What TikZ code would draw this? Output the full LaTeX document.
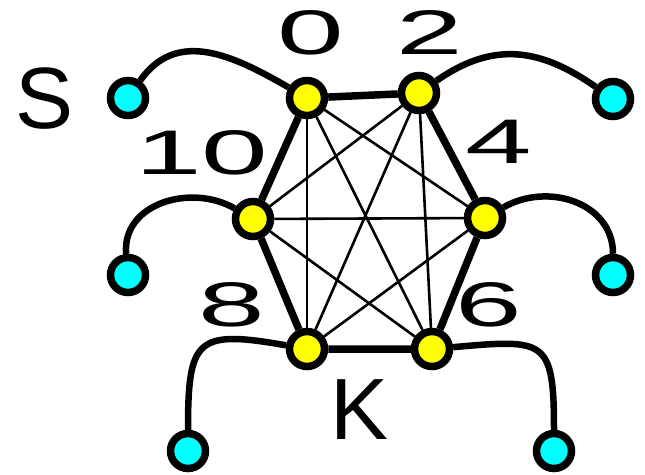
\documentclass[tikz,border=0pt]{standalone}
\usepackage{fontspec}
\setmainfont{Liberation Sans}
\usepackage{graphicx}
\definecolor{aqua}{RGB}{0,255,255}
\definecolor{yel}{RGB}{255,255,0}
\begin{document}
\begin{tikzpicture}[x=1pt,y=-1pt,
  vtx/.style={circle,draw=black,line width=7.5pt,inner sep=0pt,minimum size=35pt},
  yv/.style={vtx,fill=yel},
  cv/.style={vtx,fill=aqua},
  rim/.style={line width=7.5pt},
  chord/.style={line width=2.6pt},
  arm/.style={line width=6.5pt},
  big/.style={inner sep=0pt,font=\fontsize{87}{87}\selectfont},
  num/.style={inner sep=0pt,font=\fontsize{63}{63}\selectfont}
]
\useasboundingbox (0,0) rectangle (645,474);
% vertices
\node[yv] (n0) at (307,98) {};
\node[yv] (n2) at (419,93) {};
\node[yv] (n4) at (485,218) {};
\node[yv] (n6) at (432,349) {};
\node[yv] (n8) at (307,349) {};
\node[yv] (n10) at (253,219) {};
\node[cv] (cS) at (128,98) {};
\node[cv] (cTR) at (613,99) {};
\node[cv] (cLM) at (128,275) {};
\node[cv] (cRM) at (613,275) {};
\node[cv] (cBL) at (188,451) {};
\node[cv] (cBR) at (554,451) {};
% labels
\node[num] (l0) at (311,33) {\scalebox{1.9}[1]{0}};
\node[num] (l2) at (430,33) {\scalebox{1.9}[1]{2}};
\node[num] (l10) at (202,153) {\scalebox{1.9}[1]{10}};
\node[num] (l4) at (499,142) {\scalebox{1.9}[1]{4}};
\node[num] (l8) at (232,305) {\scalebox{1.9}[1]{8}};
\node[num] (l6) at (489,305) {\scalebox{1.9}[1]{6}};
\node[big] (lS) at (45,99) {S};
\node[big] (lK) at (360,410) {K};
% rim
\draw[rim] (n0) -- (n2) -- (n4) -- (n6) -- (n8) -- (n10) -- (n0);
% chords
\draw[chord] (n0) -- (n4);
\draw[chord] (n0) -- (n6);
\draw[chord] (n0) -- (n8);
\draw[chord] (n2) -- (n6);
\draw[chord] (n2) -- (n8);
\draw[chord] (n2) -- (n10);
\draw[chord] (n4) -- (n8);
\draw[chord] (n4) -- (n10);
\draw[chord] (n6) -- (n10);
% arms
\draw[arm] (cS) to[out=55,in=150,looseness=1.1] (n0);
\draw[arm] (n2) to[out=35,in=145,looseness=1.1] (cTR);
\draw[arm] (n10) to[out=150,in=95,looseness=1.1] (cLM);
\draw[arm] (n4) to[out=30,in=90,looseness=1.1] (cRM);
\draw[arm] (n8) to[out=170,in=90,looseness=1.8] (cBL);
\draw[arm] (n6) to[out=5,in=90,looseness=1.8] (cBR);
\end{tikzpicture}
\end{document}
